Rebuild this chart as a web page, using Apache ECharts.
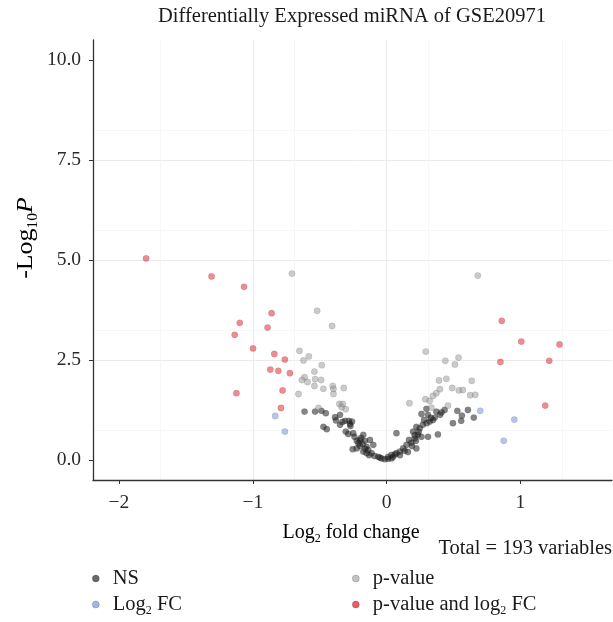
<!DOCTYPE html>
<html><head><meta charset="utf-8">
<script src="https://cdn.jsdelivr.net/npm/echarts@6/dist/echarts.min.js"></script>
<style>html,body{margin:0;padding:0;background:#fff}#c{width:613px;height:622px}</style>
</head><body><div id="c"></div>
<script>
// ---- data (log2 fold change, -log10 P) ----
const xTicks = [-2, -1, 0, 1];
const yTicks = [0, 2.5, 5, 7.5, 10];

const bothPoints = [
  [-1.797,5.04],[-1.308,4.59],[-1.065,4.33],[-1.097,3.43],[-1.135,3.13],[-0.998,2.79],[-1.122,1.67],
  [-0.859,3.67],[-0.889,3.31],[-0.839,2.65],[-0.760,2.51],[-0.869,2.26],[-0.809,2.23],[-0.722,2.17],
  [-0.777,1.74],[-0.789,1.30],
  [0.861,3.48],[1.007,2.96],[1.293,2.89],[0.851,2.45],[1.216,2.48],[1.186,1.36]
];
const fcPoints = [
  [-0.832,1.10],[-0.760,0.71],[0.700,1.23],[0.955,1.01],[0.876,0.48]
];
const pPoints = [
  [-0.707,4.66],[-0.519,3.73],[-0.407,3.35],[-0.651,2.73],[-0.581,2.59],[-0.621,2.49],[-0.484,2.37],
  [-0.539,2.21],[-0.613,2.07],[-0.633,2.00],[-0.591,1.95],[-0.534,2.02],[-0.489,2.00],[-0.539,1.85],
  [-0.472,1.78],[-0.402,1.85],[-0.397,1.78],[-0.397,1.65],[-0.320,1.80],[-0.658,1.65],[-0.353,1.40],
  [-0.328,1.40],[-0.335,1.32],[-0.509,1.30],[-0.305,1.27],
  [0.682,4.61],[0.293,2.71],[0.439,2.48],[0.538,2.56],[0.511,2.39],[0.392,1.99],[0.447,2.03],
  [0.637,1.98],[0.399,1.77],[0.491,1.80],[0.541,1.74],[0.570,1.75],[0.625,1.62],[0.663,1.63],
  [0.372,1.67],[0.347,1.60],[0.290,1.52],[0.322,1.48],[0.171,1.42],[0.459,1.36],[0.335,1.31]
];
const nsPoints = [
  [-0.613,1.21],[-0.534,1.21],[-0.487,1.23],[-0.454,1.17],[-0.348,1.13],[-0.385,1.07],[-0.378,0.99],
  [-0.310,0.98],[-0.281,0.98],[-0.258,0.96],[-0.348,0.88],[-0.273,0.90],[-0.472,0.83],[-0.447,0.77],
  [-0.305,0.71],[-0.286,0.65],[-0.249,0.67],[-0.174,0.63],[-0.199,0.50],[-0.223,0.48],[-0.162,0.48],
  [-0.124,0.50],[-0.099,0.38],[-0.199,0.35],[-0.149,0.33],[-0.137,0.25],[-0.253,0.27],[-0.223,0.29],
  [-0.174,0.21],[-0.149,0.17],[-0.112,0.17],[-0.062,0.08],[-0.037,0.04],[-0.013,0.02],[0.012,0.03],
  [0.037,0.04],[0.049,0.08],[0.074,0.17],[0.074,0.67],
  [-0.21,0.42],[-0.18,0.40],[-0.16,0.28],[-0.24,0.58],[-0.19,0.55],[-0.13,0.12],[-0.09,0.10],
  [-0.27,0.85],[-0.33,0.95],
  [0.298,1.28],[0.372,1.21],[0.410,1.19],[0.434,1.25],[0.529,1.23],[0.608,1.25],[0.261,1.15],
  [0.310,1.13],[0.360,1.06],[0.563,1.11],[0.652,1.06],[0.280,1.00],[0.322,0.96],[0.347,1.00],
  [0.496,0.92],[0.558,0.98],[0.223,0.83],[0.248,0.79],[0.198,0.71],[0.235,0.63],[0.261,0.58],
  [0.211,0.54],[0.310,0.58],[0.384,0.64],[0.168,0.50],[0.186,0.43],[0.149,0.38],[0.223,0.29],
  [0.124,0.29],[0.136,0.23],[0.099,0.21],[0.062,0.14],[0.037,0.13],[0.012,0.08],[-0.050,0.06],
  [0.21,0.62],[0.24,0.70],[0.22,0.48],[0.19,0.35],[0.16,0.20],[0.27,0.88],[0.30,0.92],[0.10,0.12],
  [0.33,1.05],[0.40,1.13]
];

const seriesNames = ['NS', 'Log2 FC', 'p-value', 'p-value and log2 FC'];
const legendLeftNames = ['NS', 'Log2 FC'];
const legendRightNames = ['p-value', 'p-value and log2 FC'];
const titleText = 'Differentially Expressed miRNA of GSE20971';
const captionText = 'Total = 193 variables';

// ---- styles ----
const SERIF = '"Liberation Serif", "DejaVu Serif", serif';
const colors = {
  'NS': 'rgba(30,30,30,0.68)',
  'Log2 FC': 'rgba(90,120,210,0.55)',
  'p-value': 'rgba(150,150,150,0.62)',
  'p-value and log2 FC': 'rgba(228,40,52,0.68)'
};
const legendColors = {
  'NS': '#444', 'Log2 FC': '#8fa3dc', 'p-value': '#b3b3b3', 'p-value and log2 FC': '#e8333d'
};
function rich(size) {
  return {
    n: {fontFamily: SERIF, fontSize: size, color: '#1a1a1a'},
    s: {fontFamily: SERIF, fontSize: Math.round(size * 0.6), color: '#1a1a1a', padding: [Math.round(size * 0.6), 0, 0, 0]},
    i: {fontFamily: SERIF, fontSize: size, color: '#1a1a1a', fontStyle: 'italic'}
  };
}
function legendLabel(name) {
  if (name === 'Log2 FC') return '{n|Log}{s|2}{n| FC}';
  if (name === 'p-value and log2 FC') return '{n|p-value and log}{s|2}{n| FC}';
  return '{n|' + name + '}';
}

const dataMap = {
  'NS': nsPoints, 'Log2 FC': fcPoints, 'p-value': pPoints, 'p-value and log2 FC': bothPoints
};

const chart = echarts.init(document.getElementById('c'), null, {renderer: 'canvas'});

function mkLegend(names, left) {
  return {
    orient: 'vertical', left: left, top: 568, padding: 0, itemGap: 5,
    itemWidth: 24, itemHeight: 7, icon: 'circle', selectedMode: false,
    data: names.map(n => ({name: n, itemStyle: {color: legendColors[n], borderColor: 'rgba(0,0,0,0.35)', borderWidth: 0.6}})),
    formatter: legendLabel,
    textStyle: {fontFamily: SERIF, fontSize: 20.5, color: '#1a1a1a', rich: rich(20.5)}
  };
}

chart.setOption({
  animation: false,
  backgroundColor: '#fff',
  grid: {left: 93, right: 1, top: 40, bottom: 142, containLabel: false},
  xAxis: {
    type: 'value', min: -2.194, max: 1.685, interval: 1,
    axisLine: {show: true, onZero: false, lineStyle: {color: '#333', width: 1.3}},
    axisTick: {show: true, length: 4, lineStyle: {color: '#333', width: 1}, customValues: xTicks},
    axisLabel: {customValues: xTicks, margin: 13, fontFamily: SERIF, fontSize: 19.5, color: '#2a2a2a',
      formatter: v => (v < 0 ? '\u2212' + Math.abs(v) : String(v))},
    splitLine: {show: true, showMinLine: false, showMaxLine: false, lineStyle: {color: '#ebebeb', width: 1}},
    minorTick: {show: false, splitNumber: 2},
    minorSplitLine: {show: true, lineStyle: {color: '#f5f5f5', width: 0.8}}
  },
  yAxis: {
    type: 'value', min: -0.5, max: 10.5, interval: 2.5,
    axisLine: {show: true, onZero: false, lineStyle: {color: '#333', width: 1.3}},
    axisTick: {show: true, length: 4, lineStyle: {color: '#333', width: 1}, customValues: yTicks},
    axisLabel: {customValues: yTicks, margin: 12, fontFamily: SERIF, fontSize: 19.5, color: '#2a2a2a',
      formatter: v => v.toFixed(1)},
    splitLine: {show: true, showMinLine: false, showMaxLine: false, lineStyle: {color: '#ebebeb', width: 1}},
    minorTick: {show: false, splitNumber: 2},
    minorSplitLine: {show: true, lineStyle: {color: '#f5f5f5', width: 0.8}}
  },
  legend: [mkLegend(legendLeftNames, 92), mkLegend(legendRightNames, 352)],
  series: seriesNames.map(n => ({
    name: n, type: 'scatter', data: dataMap[n], symbol: 'circle', symbolSize: 6.3,
    itemStyle: {color: colors[n], borderColor: 'rgba(0,0,0,0.25)', borderWidth: 0.5},
    emphasis: {disabled: true}
  })),
  graphic: [
    {type: 'text', x: 352, y: 17, style: {text: titleText, align: 'center', verticalAlign: 'middle',
      fontFamily: SERIF, fontSize: 20.5, fill: '#1a1a1a'}},
    {type: 'text', x: 351, y: 533, style: {text: '{n|Log}{s|2}{n| fold change}', align: 'center', verticalAlign: 'middle',
      rich: rich(20)}},
    {type: 'text', x: 612, y: 549, style: {text: captionText, align: 'right', verticalAlign: 'middle',
      fontFamily: SERIF, fontSize: 20.5, fill: '#1a1a1a'}},
    {type: 'text', x: 26, y: 238, rotation: Math.PI / 2, scaleX: 1.12, style: {text: '{n|-Log}{s|10}{i|P}', align: 'center', verticalAlign: 'middle',
      rich: rich(23)}}
  ]
});
</script></body></html>
